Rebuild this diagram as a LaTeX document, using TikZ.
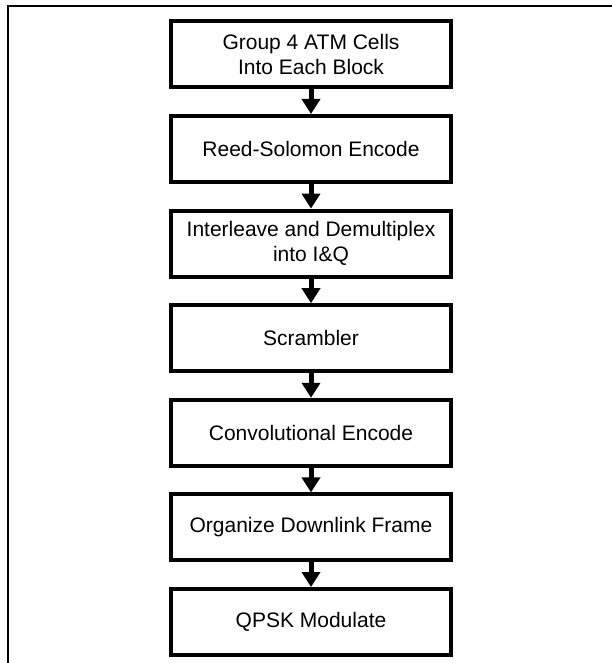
\documentclass[tikz,border=0pt]{standalone}
\usepackage{fontspec}
\setmainfont{Liberation Sans}
\usetikzlibrary{arrows.meta}

\begin{document}
\begin{tikzpicture}[x=1pt, y=1pt]
            \useasboundingbox (0,0) rectangle (612,-663);

            % open frame, only top and left are shown
            \draw[line width=2pt] (8,-663) -- (8,-6.5) -- (612,-6.5);

            \begin{scope}[
                    every node/.style={draw, line width=4pt, minimum width=280pt,
                        minimum height=66pt, inner sep=0pt, align=center,
                        font=\fontsize{21}{25}\selectfont},
                    flow/.style={line width=5pt, -{Triangle[width=18pt,length=15pt]}}
                ]

                \node (group) at (311,-54.4) {Group 4 ATM Cells\\Into Each Block};
                \node (rs) at (311,-149) {Reed-Solomon Encode};
                \node (inter) at (311,-243.6) {Interleave and Demultiplex\\into I\&Q};
                \node (scram) at (311,-338.2) {Scrambler};
                \node (conv) at (311,-432.8) {Convolutional Encode};
                \node (frame) at (311,-527.4) {Organize Downlink Frame};
                \node (qpsk) at (311,-622) {QPSK Modulate};

                \draw[flow] (group) -- (rs);
                \draw[flow] (rs) -- (inter);
                \draw[flow] (inter) -- (scram);
                \draw[flow] (scram) -- (conv);
                \draw[flow] (conv) -- (frame);
                \draw[flow] (frame) -- (qpsk);
            \end{scope}
        \end{tikzpicture}
\end{document}
